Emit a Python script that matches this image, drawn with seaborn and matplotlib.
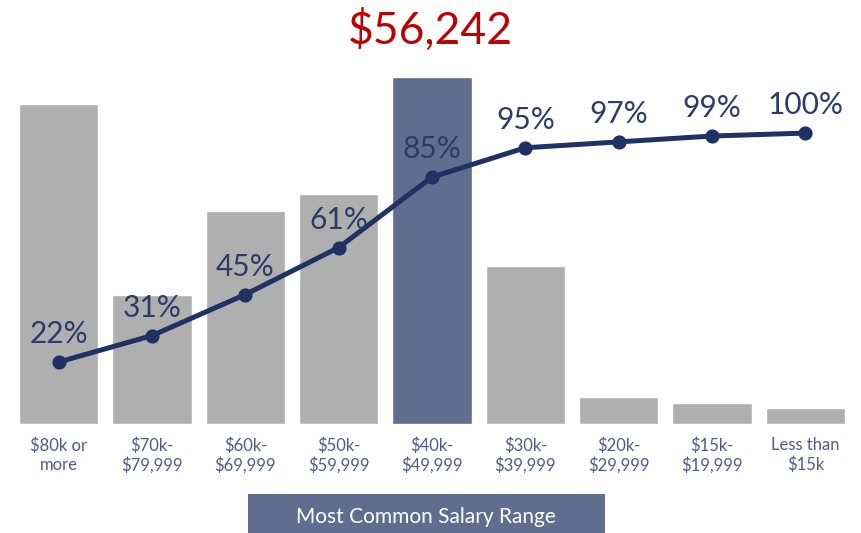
import numpy as np
import pandas as pd
import matplotlib
import matplotlib.pyplot as plt
import seaborn as sns
from matplotlib.patches import Rectangle

matplotlib.use('Agg')

# data
salary_ranges = ["$80k or\nmore", "$70k-\n$79,999", "$60k-\n$69,999", "$50k-\n$59,999",
                 "$40k-\n$49,999", "$30k-\n$39,999", "$20k-\n$29,999", "$15k-\n$19,999",
                 "Less than\n$15k"]
share_pct = [22.1, 8.9, 14.7, 15.9, 24.0, 10.9, 1.9, 1.45, 1.1]
cumulative_pct = [22, 31, 45, 61, 85, 95, 97, 99, 100]
most_common = "$40k-\n$49,999"
average_salary = "$56,242"

GRAY = "#afafaf"
SLATE = "#5f6e8f"
NAVY = "#1f3263"
LABEL = "#2c3b68"
TICK = "#4d5c88"

sns.set_style("white")
plt.rcParams['font.family'] = ['Lato', 'DejaVu Sans']

df = pd.DataFrame({"range": salary_ranges, "share": share_pct, "cum": cumulative_pct})
df["top"] = np.where(df["range"] == most_common, "top", "other")

fig = plt.figure(figsize=(8.61, 5.33), dpi=100)
ax = fig.add_axes([12 / 861, 1 - 424 / 533, 840 / 861, 364 / 533])

sns.barplot(data=df, x="range", y="share", hue="top", palette={"top": SLATE, "other": GRAY},
            width=0.85, dodge=False, legend=False, ax=ax, saturation=1)
ax.set_ylim(0, 24.0 * 364 / 347)

ax2 = ax.twinx()
sns.pointplot(data=df, x="range", y="cum", color=NAVY, markers="o", linestyles="-",
              markersize=7.5, linewidth=3.6, ax=ax2)
ax2.set_ylim(0.88, 124.9)

for i, v in enumerate(cumulative_pct):
    ax2.annotate(f"{v}%", (i, v), xytext=(0, 19), textcoords="offset pixels",
                 ha="center", va="baseline", fontsize=21.5, color=LABEL)

for a in (ax, ax2):
    a.set_xlim(-0.5, len(salary_ranges) - 0.5)
    a.set_xlabel("")
    a.set_ylabel("")
    a.set_yticks([])
    for s in a.spines.values():
        s.set_visible(False)

ax.set_xticks(np.arange(len(salary_ranges)))
ax.set_xticklabels(salary_ranges, color=TICK, fontsize=12, linespacing=1.2)
ax.set_xticks(np.arange(-0.5, len(salary_ranges)), minor=True)
ax.tick_params(axis="x", which="major", length=0, pad=9.7)
ax.tick_params(axis="x", which="minor", length=8, width=1, color="#e3e3e3")

fig.text(430 / 861, 1 - 44 / 533, average_salary, ha="center", va="baseline",
         fontsize=32, color="#c00000")

fig.patches.append(Rectangle((248 / 861, 0), 357 / 861, 39 / 533, transform=fig.transFigure,
                             facecolor=SLATE, edgecolor="none", figure=fig))
fig.text(426 / 861, 1 - 517 / 533, "Most Common Salary Range", ha="center", va="center",
         fontsize=15, color="white")

fig.savefig("out.png", dpi=100)
